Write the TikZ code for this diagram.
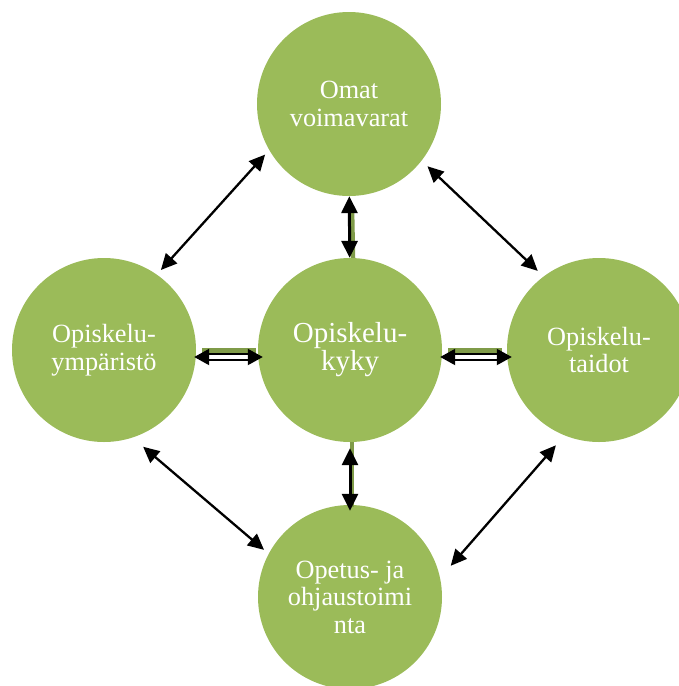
\documentclass[tikz,border=0pt]{standalone}
\usepackage{fontspec}
\setmainfont{Liberation Serif}
\usetikzlibrary{arrows.meta}
\definecolor{kupla}{HTML}{9BBB59}
\definecolor{palkki}{HTML}{7F9B48}
\tikzset{
  pallo/.style={circle, fill=kupla, minimum size=184pt, inner sep=0pt, align=center, text=white,
    font=\fontsize{26.3}{27.5}\selectfont},
  nuoli/.style={{Triangle[length=16pt,width=15pt]}-{Triangle[length=16pt,width=15pt]}, line width=2.3pt},
  paksunuoli/.style={{Triangle[length=17pt,width=16pt]}-{Triangle[length=17pt,width=16pt]}, line width=3pt},
  tuplanuoli/.style={{Triangle[length=15pt,width=16pt]}-{Triangle[length=15pt,width=16pt]}, line width=2pt, double, double distance=4pt},
  varjo/.style={draw=palkki, line width=4.5pt}
}
\begin{document}
\begin{tikzpicture}[x=1pt, y=-1pt]
\useasboundingbox (0,0) rectangle (679,686);
% circles
\node[pallo] (omat) at (349,104) {Omat\\voimavarat};
\node[pallo, font=\fontsize{29}{28}\selectfont] (kyky) at (350,350) {Opiskelu-\\kyky};
\node[pallo] (ymparisto) at (104,350) {Opiskelu-\\ympäristö};
\node[pallo] (taidot) at (599,350) {Opiskelu-\\taidot};
\node[pallo] (opetus) at (350,597) {Opetus- ja\\ohjaustoimi\\nta};
% green bars next to the middle arrows
\draw[varjo] ([shift={(3pt,-11pt)}]omat.south) -- ([xshift=3pt]kyky.north);
\draw[varjo] ([xshift=2pt]kyky.south) -- ([shift={(2pt,-2pt)}]opetus.north);
\draw[varjo] ([shift={(6pt,-0.5pt)}]ymparisto.east) -- ([shift={(-2pt,-0.5pt)}]kyky.west);
\draw[varjo] ([shift={(6pt,-0.5pt)}]kyky.east) -- ([shift={(-5pt,-0.5pt)}]taidot.west);
% middle arrows
\draw[paksunuoli] (omat) -- (kyky);
\draw[paksunuoli] ([yshift=-6pt]kyky.south) -- ([yshift=-6pt]opetus.north);
\draw[tuplanuoli] ([shift={(-2pt,-7pt)}]ymparisto.east) -- ([shift={(5pt,-7pt)}]kyky.west);
\draw[tuplanuoli] ([shift={(-2pt,-7pt)}]kyky.east) -- ([shift={(5pt,-7pt)}]taidot.west);
% outer arrows
\draw[nuoli, shorten <=6pt, shorten >=6pt] (omat.210) -- (ymparisto.55);
\draw[nuoli, shorten <=8pt, shorten >=8pt] (omat.-38) -- (taidot.127);
\draw[nuoli, shorten <=14pt, shorten >=6pt] (ymparisto.-72) -- (opetus.152);
\draw[nuoli, shorten <=16pt, shorten >=13pt] (opetus.12) -- (taidot.248);
\end{tikzpicture}
\end{document}
